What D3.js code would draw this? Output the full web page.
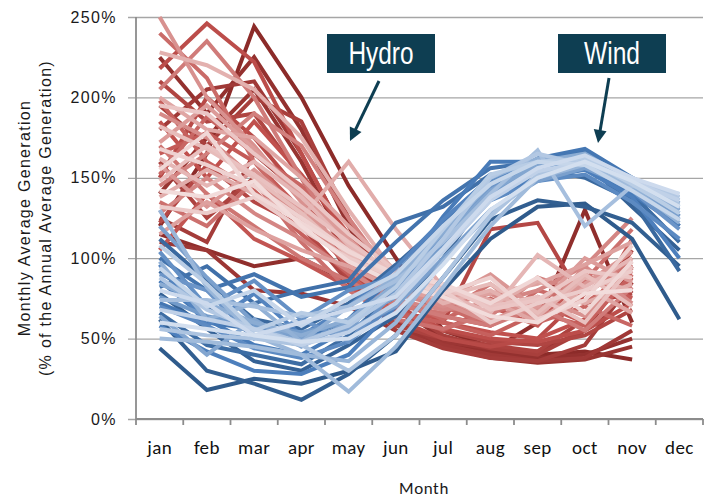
<!DOCTYPE html>
<meta charset="utf-8">
<style>
body { margin: 0; background: #fff; }
.ylab text { font: 16px "Liberation Sans", Arial, sans-serif; letter-spacing: 1.4px; fill: #1a1a1a; }
.xlab text { font: 19px Carlito, Lato, sans-serif; letter-spacing: 0.4px; fill: #111; }
.title { font: 16px "Liberation Sans", Arial, sans-serif; letter-spacing: 1.3px; fill: #1a1a1a; }
.callout { font: 31px "Liberation Sans Narrow", "Liberation Sans", sans-serif; fill: #fff; }
</style>
<body>
<script src="https://cdn.jsdelivr.net/npm/d3@7"></script>
<script>
var months = ["jan","feb","mar","apr","may","jun","jul","aug","sep","oct","nov","dec"];
var yTicks = [0, 50, 100, 150, 200, 250];

// hydro: jan..nov, dark -> light
var hydro = [
  [120,165,244,200,145,100,55,45,40,42,37],
  [115,105,95,100,85,60,48,42,60,130,60],
  [225,190,225,180,120,70,50,42,38,40,50],
  [140,175,205,160,105,60,45,38,35,37,45],
  [110,105,80,78,70,55,48,44,42,55,80],
  [180,205,210,165,110,62,46,40,36,38,55],
  [125,110,165,140,90,55,44,38,36,46,85],
  [195,170,200,185,125,72,52,44,40,55,95],
  [160,125,150,120,85,58,50,46,42,62,105],
  [210,185,190,150,100,66,55,48,46,52,68],
  [122,158,135,120,88,65,60,118,122,72,78],
  [150,200,175,140,95,62,50,45,50,78,98],
  [218,246,222,165,110,70,56,50,48,55,72],
  [185,150,185,152,115,75,60,54,50,62,88],
  [105,140,112,98,82,64,64,58,72,60,112],
  [165,178,160,130,95,68,55,70,58,90,75],
  [198,160,142,115,90,65,60,52,66,58,90],
  [152,188,165,145,110,75,62,75,60,70,58],
  [240,212,160,125,95,70,70,58,80,72,92],
  [135,120,148,110,80,62,56,66,74,86,118],
  [170,140,120,100,86,70,66,84,62,78,96],
  [205,235,200,150,105,72,64,58,70,55,82],
  [145,165,190,170,125,85,70,64,88,78,100],
  [128,150,128,112,92,74,68,72,80,95,125],
  [190,175,150,125,98,78,70,78,62,95,72],
  [250,200,170,135,100,80,72,60,76,64,94],
  [158,132,155,130,105,82,74,90,68,84,104],
  [172,195,168,140,112,86,76,62,70,100,85],
  [115,135,118,105,95,80,75,78,84,96,110],
  [200,180,175,150,120,92,80,74,60,82,66],
  [138,155,140,125,160,118,82,70,86,72,84],
  [228,220,205,175,130,90,72,80,64,88,80],
  [162,145,160,138,108,86,78,66,102,82,100],
  [182,168,150,128,102,84,76,84,66,90,70],
  [148,170,152,132,110,90,82,70,76,60,95],
  [195,190,165,142,115,92,84,68,74,92,88],
  [132,128,138,118,100,88,80,60,72,80,92],
  [168,158,145,125,105,88,78,88,62,74,108],
  [155,178,140,122,104,90,84,72,88,66,98],
  [142,138,148,120,98,84,76,64,60,78,80]
];

// wind: jan..dec, dark -> light
var wind = [
  [44,18,25,22,30,42,80,112,132,134,112,62],
  [62,30,22,12,28,52,88,124,136,132,122,95],
  [78,56,36,30,46,64,100,142,155,160,132,105],
  [92,70,52,46,60,76,112,150,160,166,146,120],
  [112,86,62,56,72,96,122,146,156,150,136,92],
  [66,46,40,34,52,80,116,140,150,158,140,110],
  [82,95,72,80,86,122,132,152,156,162,142,130],
  [100,80,90,76,82,110,136,156,160,166,148,126],
  [72,60,56,50,62,90,122,146,162,168,150,134],
  [86,62,46,40,56,86,126,160,160,156,140,120],
  [58,42,30,28,40,70,108,138,150,155,138,100],
  [96,58,78,52,70,94,124,150,158,162,145,128],
  [70,58,44,38,48,72,105,136,148,152,135,112],
  [104,70,86,62,80,88,118,148,156,160,146,124],
  [90,80,50,62,48,80,114,144,154,158,142,118],
  [76,64,58,54,60,78,110,140,156,164,148,132],
  [120,88,60,50,56,70,100,130,148,156,144,126],
  [64,40,62,45,60,76,112,142,158,162,150,136],
  [84,72,60,52,62,84,116,146,160,165,148,130],
  [98,62,72,48,70,88,118,150,162,160,144,122],
  [130,82,52,40,36,60,98,128,150,158,146,132],
  [50,48,45,40,17,45,82,120,150,160,145,138],
  [74,74,70,64,70,86,110,140,167,120,145,140],
  [56,52,50,46,30,52,88,126,152,160,148,134],
  [88,68,56,48,58,78,112,150,165,158,150,138],
  [108,84,55,66,60,82,118,152,160,162,146,128],
  [68,62,56,46,54,72,104,136,154,160,148,136],
  [94,70,80,58,75,90,120,146,160,158,142,124],
  [80,72,52,60,68,76,106,138,156,164,150,140],
  [60,56,52,48,50,66,96,130,150,160,148,132]
];

var width = 709, height = 500;
var margin = { top: 17, right: 6, bottom: 81, left: 136 };

var svg = d3.select("body").append("svg")
    .attr("width", width)
    .attr("height", height);

var x = d3.scaleBand().domain(months).range([margin.left, width - margin.right]);
var y = d3.scaleLinear().domain([0, 250]).range([height - margin.bottom, margin.top]);

var hydroColor = d3.piecewise(d3.interpolateRgb, ["#8c2b29", "#c0504d", "#da9694", "#f2dcdb"]);
var windColor = d3.piecewise(d3.interpolateRgb, ["#2f5b8c", "#4a7dbb", "#95b3d7", "#d3dfef"]);

// horizontal grid + y labels
var yAxis = d3.axisLeft(y)
    .tickValues(yTicks)
    .tickSize(-(width - margin.right - margin.left))
    .tickSizeOuter(0)
    .tickPadding(19)
    .tickFormat(function (d) { return d + "%"; });

var gy = svg.append("g")
    .attr("class", "ylab")
    .attr("transform", "translate(" + margin.left + ",0)")
    .call(yAxis);
gy.select(".domain").remove();
gy.selectAll(".tick line")
    .attr("x1", -8)
    .attr("stroke", "#a6a6a6")
    .attr("stroke-width", 1.3);

// series
var line = d3.line()
    .x(function (d, i) { return x(months[i]) + x.bandwidth() / 2; })
    .y(function (d) { return y(d); });

svg.append("g").selectAll("path")
    .data(hydro)
  .enter().append("path")
    .attr("d", line)
    .attr("fill", "none")
    .attr("stroke", function (d, i) { return hydroColor(i / (hydro.length - 1)); })
    .attr("stroke-width", 4);

svg.append("g").selectAll("path")
    .data(wind)
  .enter().append("path")
    .attr("d", line)
    .attr("fill", "none")
    .attr("stroke", function (d, i) { return windColor(i / (wind.length - 1)); })
    .attr("stroke-width", 4);

// y axis line
svg.append("line")
    .attr("x1", margin.left).attr("x2", margin.left)
    .attr("y1", y(250)).attr("y2", y(0))
    .attr("stroke", "#8c8c8c")
    .attr("stroke-width", 1.8);

// x axis
var xAxis = d3.axisBottom(x).tickSize(0).tickPadding(22);
var gx = svg.append("g")
    .attr("class", "xlab")
    .attr("transform", "translate(0," + y(0) + ")")
    .call(xAxis);
gx.select(".domain").remove();

var bounds = months.map(function (m) { return x(m); }).concat([x.range()[1]]);
svg.append("line")
    .attr("x1", margin.left).attr("x2", x.range()[1])
    .attr("y1", y(0)).attr("y2", y(0))
    .attr("stroke", "#8c8c8c")
    .attr("stroke-width", 1.8);
svg.append("g").selectAll("line")
    .data(bounds)
  .enter().append("line")
    .attr("x1", function (d) { return d; })
    .attr("x2", function (d) { return d; })
    .attr("y1", y(0))
    .attr("y2", y(0) + 6)
    .attr("stroke", "#8c8c8c")
    .attr("stroke-width", 1.8);

// axis titles
svg.append("text")
    .attr("class", "title")
    .attr("transform", "translate(30," + (y(125)) + ") rotate(-90)")
    .attr("text-anchor", "middle")
    .text("Monthly Average Generation");
svg.append("text")
    .attr("class", "title")
    .attr("transform", "translate(51," + (y(125)) + ") rotate(-90)")
    .attr("text-anchor", "middle")
    .text("(% of the Annual Average Generation)");
svg.append("text")
    .attr("class", "title")
    .attr("x", 424)
    .attr("y", 494)
    .attr("text-anchor", "middle")
    .style("font-family", "Carlito, Lato, sans-serif")
    .style("font-size", "17px")
    .style("letter-spacing", "0.6px")
    .text("Month");

// callouts
var ink = "#0e3e52";
function callout(label, bx, textW, tx1, ty1, tx2, ty2) {
  svg.append("rect")
      .attr("x", bx).attr("y", 34)
      .attr("width", 108).attr("height", 39)
      .attr("fill", ink);
  svg.append("text")
      .attr("class", "callout")
      .attr("x", bx + 54).attr("y", 64)
      .attr("text-anchor", "middle")
      .attr("textLength", textW)
      .attr("lengthAdjust", "spacingAndGlyphs")
      .text(label);
  var dx = tx2 - tx1, dy = ty2 - ty1, len = Math.sqrt(dx * dx + dy * dy);
  var ux = dx / len, uy = dy / len, head = 13, half = 6.5;
  var bx2 = tx2 - ux * head, by2 = ty2 - uy * head;
  svg.append("line")
      .attr("x1", tx1).attr("y1", ty1)
      .attr("x2", bx2 + ux * 2).attr("y2", by2 + uy * 2)
      .attr("stroke", ink)
      .attr("stroke-width", 3);
  svg.append("path")
      .attr("d", "M" + tx2 + "," + ty2 +
                 "L" + (bx2 - uy * half) + "," + (by2 + ux * half) +
                 "L" + (bx2 + uy * half) + "," + (by2 - ux * half) + "Z")
      .attr("fill", ink);
}
callout("Hydro", 327, 65, 379, 81, 350, 141);
callout("Wind", 558, 56, 609, 78, 598, 143);
</script>
</body>
